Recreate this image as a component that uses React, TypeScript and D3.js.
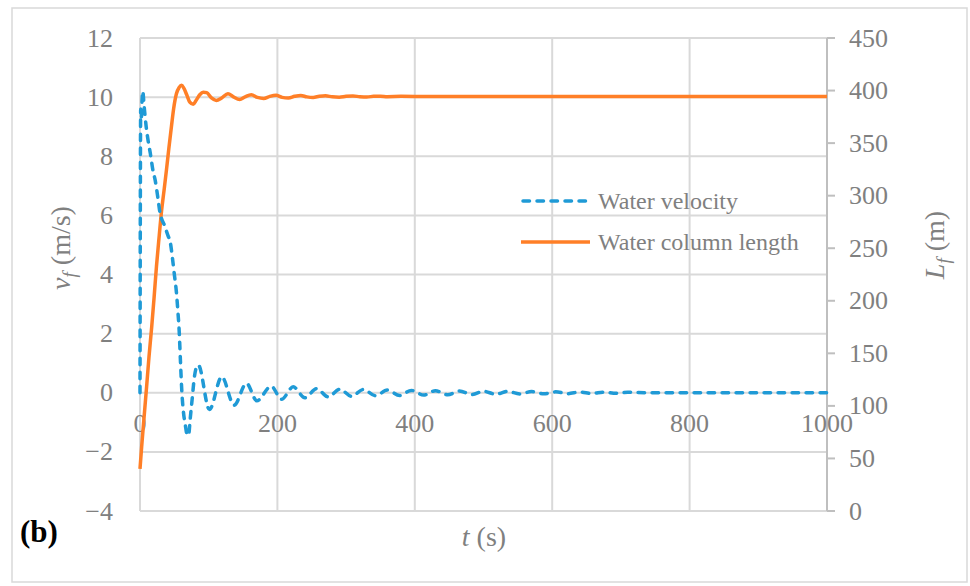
import React from "react";
import * as d3 from "d3";

const velT = [0, 1, 2, 3, 4, 6, 9, 12, 15, 19, 22, 26, 29, 32, 35, 38, 41, 44, 47, 50, 53, 55, 57, 59, 61, 63, 66, 69, 71, 73, 76, 79, 82, 85, 101, 119, 137, 155, 170, 191, 206, 223, 240, 257, 274, 291, 308, 325, 343, 360, 378, 395, 413, 430, 448, 465, 483, 500, 518, 535, 553, 570, 588, 605, 623, 640, 658, 675, 693, 710, 740, 1000];
const velV = [0, 9.6, 9.3, 9.9, 10.2, 9.7, 9.0, 8.5, 8.1, 7.5, 7.2, 6.6, 6.1, 5.85, 5.7, 5.5, 5.3, 5.1, 4.6, 4.0, 3.4, 2.8, 2.1, 1.0, 0.0, -0.6, -1.1, -1.45, -1.4, -0.9, -0.2, 0.5, 0.85, 0.93, -0.57, 0.54, -0.42, 0.32, -0.27, 0.22, -0.22, 0.2, -0.17, 0.14, -0.14, 0.12, -0.12, 0.11, -0.1, 0.09, -0.09, 0.08, -0.08, 0.07, -0.07, 0.06, -0.06, 0.05, -0.05, 0.045, -0.04, 0.04, -0.035, 0.03, -0.03, 0.025, -0.025, 0.02, -0.02, 0.015, 0, 0];

const lenT = [0, 2.4, 5, 9.6, 13, 17, 20.5, 24, 28, 31.3, 35, 38.6, 42, 45.8, 49, 53, 57, 60.5, 64, 68, 72.5, 77.5, 82, 87, 92, 97, 104, 111, 119, 128, 136, 145, 153, 162, 171, 180, 189, 198, 207, 216, 225, 234, 243, 252, 261, 270, 280, 290, 300, 310, 320, 330, 340, 350, 360, 380, 420, 1000];
const lenL = [40, 61, 82, 118, 146, 175, 203, 233, 262, 285, 305, 325, 345, 366, 383, 397, 403, 405, 402, 396, 389, 387, 391, 396, 398.5, 398, 393, 390.6, 393, 397, 394, 391.5, 394, 396, 393.5, 392.5, 394.5, 395.5, 393.5, 393, 394.5, 395.3, 394, 393.5, 394.5, 395, 394, 393.7, 394.5, 394.8, 394.2, 393.9, 394.5, 394.7, 394.2, 394.5, 394.4, 394.4];

const xTicks = [0, 200, 400, 600, 800, 1000];
const yLeftTicks = [-4, -2, 0, 2, 4, 6, 8, 10, 12];
const yRightTicks = [0, 50, 100, 150, 200, 250, 300, 350, 400, 450];
const seriesNames = ["Water velocity", "Water column length"];

const BLUE = "#1f9ad6";
const ORANGE = "#ff7f27";
const GRID = "#d9d9d9";
const TXT = "#808080";
const FONT = "'Liberation Serif', 'Times New Roman', serif";

export default function App() {
  const L = 140, R = 827, T = 38, B = 511;
  const x = d3.scaleLinear().domain([0, 1000]).range([L, R]);
  const yl = d3.scaleLinear().domain([-4, 12]).range([B, T]);
  const yr = d3.scaleLinear().domain([0, 450]).range([B, T]);

  const velData = velT.map((t, i) => [t, velV[i]] as [number, number]);
  const lenData = lenT.map((t, i) => [t, lenL[i]] as [number, number]);

  const velLine = d3.line<[number, number]>().x(d => x(d[0])).y(d => yl(d[1])).curve(d3.curveMonotoneX);
  const lenLine = d3.line<[number, number]>().x(d => x(d[0])).y(d => yr(d[1])).curve(d3.curveMonotoneX);

  return (
    <svg width={970} height={586} style={{ position: "absolute", left: 0, top: 0, background: "#fff" }} fontFamily={FONT}>
      <rect x={12} y={8} width={955} height={574} fill="#fff" stroke={GRID} strokeWidth={1.5} />
      {yLeftTicks.map(v => (
        <line key={"h" + v} x1={L} x2={R} y1={yl(v)} y2={yl(v)} stroke={GRID} strokeWidth={2} />
      ))}
      {xTicks.map(t => (
        <line key={"v" + t} x1={x(t)} x2={x(t)} y1={T} y2={B} stroke={GRID} strokeWidth={2} />
      ))}
      <line x1={R} x2={R} y1={T} y2={B} stroke="#bfbfbf" strokeWidth={2} />
      {yRightTicks.map(v => (
        <line key={"rt" + v} x1={R} x2={R + 8} y1={yr(v)} y2={yr(v)} stroke="#bfbfbf" strokeWidth={2} />
      ))}
      {yLeftTicks.map(v => (
        <text key={"yl" + v} x={113} y={yl(v) + 8.5} textAnchor="end" fontSize={26} fill={TXT}>
          {v < 0 ? "\u2212" + Math.abs(v) : v}
        </text>
      ))}
      {yRightTicks.map(v => (
        <text key={"yr" + v} x={849} y={yr(v) + 8.5} textAnchor="start" fontSize={26} fill={TXT}>{v}</text>
      ))}
      {xTicks.map(t => (
        <text key={"xt" + t} x={x(t)} y={yl(0) + 39} textAnchor="middle" fontSize={26} fill={TXT}>{t}</text>
      ))}
      <path d={lenLine(lenData) || ""} fill="none" stroke={ORANGE} strokeWidth={3.5} strokeLinejoin="round" />
      <path d={velLine(velData) || ""} fill="none" stroke={BLUE} strokeWidth={3.5} strokeDasharray="6.5 7.5" strokeLinecap="round" strokeLinejoin="round" />
      {/* legend */}
      <line x1={523} x2={588} y1={201} y2={201} stroke={BLUE} strokeWidth={3.5} strokeDasharray="6.5 7.5" strokeLinecap="round" />
      <text x={598} y={209} fontSize={24} fill={TXT}>{seriesNames[0]}</text>
      <line x1={521} x2={590} y1={242} y2={242} stroke={ORANGE} strokeWidth={3.5} />
      <text x={598} y={250} fontSize={24} fill={TXT}>{seriesNames[1]}</text>
      {/* axis titles */}
      <text transform="translate(70,248) rotate(-90)" textAnchor="middle" fontSize={28} fill={TXT}>
        <tspan fontStyle="italic">v</tspan>
        <tspan fontStyle="italic" fontSize={19} dy={6}>f</tspan>
        <tspan dy={-6}> (m/s)</tspan>
      </text>
      <text transform="translate(944,245) rotate(-90)" textAnchor="middle" fontSize={28} fill={TXT}>
        <tspan fontStyle="italic">L</tspan>
        <tspan fontStyle="italic" fontSize={19} dy={6}>f</tspan>
        <tspan dy={-6}> (m)</tspan>
      </text>
      <text x={484} y={546} textAnchor="middle" fontSize={28} fill={TXT}>
        <tspan fontStyle="italic">t</tspan>
        <tspan> (s)</tspan>
      </text>
      <text x={20} y={542} fontSize={31} fontWeight="bold" fill="#000">(b)</text>
    </svg>
  );
}
